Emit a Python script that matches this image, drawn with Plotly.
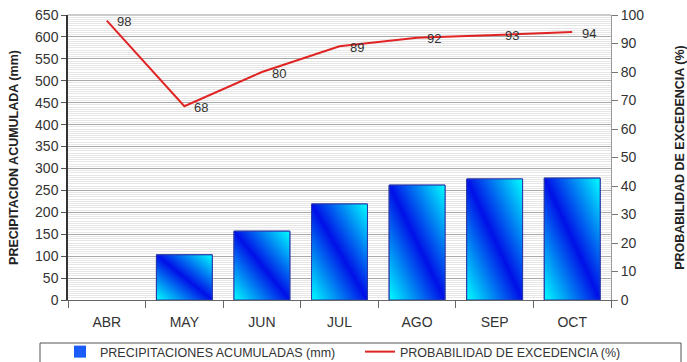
import base64
import plotly.graph_objects as go

months = ["ABR", "MAY", "JUN", "JUL", "AGO", "SEP", "OCT"]
precip_mm = [0, 103, 157, 219, 262, 276, 278]
prob_pct = [98, 68, 80, 89, 92, 93, 94]
prob_labels = [str(v) for v in prob_pct]

bar_width = 0.72
font_family = "Liberation Sans, Arial, sans-serif"

svg = (
    '<svg xmlns="http://www.w3.org/2000/svg" width="100" height="100" '
    'viewBox="0 0 100 100" preserveAspectRatio="none">'
    '<defs><linearGradient id="g" x1="0" y1="1" x2="1" y2="0">'
    '<stop offset="0" stop-color="#00ffff"/>'
    '<stop offset="0.5" stop-color="#0010e8"/>'
    '<stop offset="1" stop-color="#00ffff"/>'
    '</linearGradient></defs>'
    '<rect x="0" y="0" width="100" height="100" fill="url(#g)"/></svg>'
)
svg_uri = "data:image/svg+xml;base64," + base64.b64encode(svg.encode()).decode()

fig = go.Figure()
fig.add_trace(go.Bar(
    x=months, y=precip_mm, width=bar_width,
    name="PRECIPITACIONES ACUMULADAS (mm)",
    marker=dict(color="#1a5cf5",
                line=dict(color="#2233aa", width=[0 if v == 0 else 1 for v in precip_mm])),
    yaxis="y",
))
fig.add_trace(go.Scatter(
    x=months, y=prob_pct, mode="lines",
    line=dict(color="#e02424", width=2),
    name="PROBABILIDAD DE EXCEDENCIA (%)",
    yaxis="y2",
))

annotations = []
for m, v, t in zip(months, prob_pct, prob_labels):
    annotations.append(dict(
        x=m, y=v, xref="x", yref="y2", text=t, showarrow=False,
        xanchor="left", yanchor="middle", xshift=8, yshift=-1,
        font=dict(family=font_family, size=13, color="#333333"),
    ))

images = []
shapes = []
for i, v in enumerate(precip_mm):
    if v <= 0:
        continue
    images.append(dict(
        source=svg_uri, xref="x", yref="y",
        x=i - bar_width / 2, y=v, sizex=bar_width, sizey=v,
        sizing="stretch", layer="above", xanchor="left", yanchor="top",
    ))
    shapes.append(dict(
        type="rect", xref="x", yref="y",
        x0=i - bar_width / 2, x1=i + bar_width / 2, y0=0, y1=v,
        line=dict(color="#2a3aa8", width=1), fillcolor="rgba(0,0,0,0)",
        layer="above",
    ))

# legend frame
shapes.append(dict(
    type="rect", xref="paper", yref="paper",
    x0=(40 - 68) / 543, x1=(681 - 68) / 543,
    y0=(300 - 366) / 285, y1=(300 - 343) / 285,
    line=dict(color="#555555", width=1), fillcolor="rgba(0,0,0,0)",
))
# top border of plot area
shapes.append(dict(type="line", xref="paper", yref="paper", x0=0, x1=1, y0=1, y1=1,
                   line=dict(color="#999999", width=1)))

fig.update_layout(
    width=687, height=362,
    margin=dict(l=68, r=76, t=15, b=62, autoexpand=False),
    paper_bgcolor="white", plot_bgcolor="white",
    font=dict(family=font_family, size=13, color="#333333"),
    showlegend=True,
    legend=dict(
        orientation="h", x=(60 - 68) / 543, xanchor="left",
        y=(300 - 337) / 285, yanchor="top",
        font=dict(family=font_family, size=12.5, color="#333333"),
        entrywidth=255, bgcolor="rgba(0,0,0,0)",
    ),
    xaxis=dict(
        type="category", tickson="boundaries", ticks="outside", ticklen=7,
        tickcolor="#666666", showline=True, linecolor="#666666",
        tickfont=dict(size=14, color="#333333"), showgrid=False,
        ticklabelstandoff=9,
    ),
    yaxis=dict(
        range=[0, 650], dtick=50, ticks="outside", ticklen=5,
        tickcolor="#555555", showline=True, linecolor="#333333", linewidth=1.5,
        showgrid=True, gridcolor="#a8a8a8", gridwidth=1.3,
        minor=dict(dtick=5, showgrid=True, gridcolor="#e6e6e6", gridwidth=1),
        title=dict(text="<b>PRECIPITACION ACUMULADA (mm)</b>", font=dict(size=12.5, color="#222222"), standoff=14),
        tickfont=dict(size=14, color="#333333"),
        zeroline=False,
    ),
    yaxis2=dict(
        range=[0, 100], dtick=10, overlaying="y", side="right",
        ticks="outside", ticklen=6, tickcolor="#777777",
        showline=True, linecolor="#999999", showgrid=False, zeroline=False,
        title=dict(text="<b>PROBABILIDAD DE EXCEDENCIA (%)</b>", font=dict(size=12.5, color="#222222"), standoff=32),
        tickfont=dict(size=14, color="#333333"),
    ),
    images=images,
    shapes=shapes,
    annotations=annotations,
)

fig.write_html("out.html")
